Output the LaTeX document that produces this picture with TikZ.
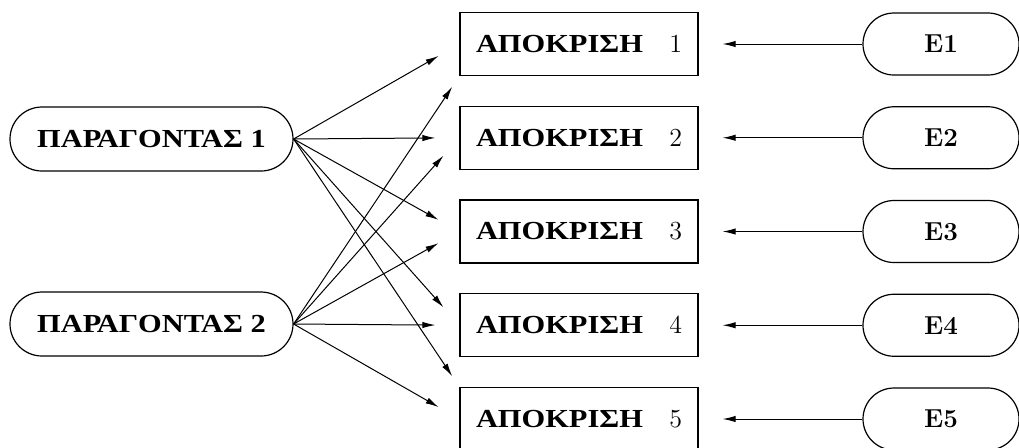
\documentclass[tikz,border=0pt]{standalone}
\usepackage{fontspec}
\newfontfamily\greekfont[FakeStretch=1.17]{Liberation Serif}
\usetikzlibrary{shapes.misc}
\usetikzlibrary{arrows.meta}

\newcommand{\grk}[1]{{\greekfont\bfseries #1}}

\begin{document}
\begin{tikzpicture}[x=0.5pt,y=-0.5pt,font=\fontsize{13}{15}\selectfont,
	factor/.style={draw,rounded rectangle,line width=0.6pt,minimum width=141.5pt,minimum height=32pt,inner sep=0pt},
	resp/.style={draw,rectangle,line width=0.6pt,minimum width=119pt,minimum height=31.5pt,text width=103pt,inner sep=0pt},
	err/.style={draw,rounded rectangle,line width=0.6pt,minimum width=78pt,minimum height=31pt,inner sep=0pt,font=\fontsize{13}{15}\selectfont\bfseries},
	link/.style={->,>={Latex[length=6.5pt,width=3.2pt]},line width=0.5pt,shorten >=12pt}]
	
	\useasboundingbox (0,0) rectangle (1019,447);
	
	% factors
	\node[factor] (p1) at (151.5,139) {\grk{ΠΑΡΑΓΟΝΤΑΣ 1}};
	\node[factor] (p2) at (151.5,324) {\grk{ΠΑΡΑΓΟΝΤΑΣ 2}};
	
	% responses
	\node[resp] (r1) at (579,44) {\grk{ΑΠΟΚΡΙΣΗ}\hfill 1};
	\node[resp] (r2) at (579,137.75) {\grk{ΑΠΟΚΡΙΣΗ}\hfill 2};
	\node[resp] (r3) at (579,231.5) {\grk{ΑΠΟΚΡΙΣΗ}\hfill 3};
	\node[resp] (r4) at (579,325.25) {\grk{ΑΠΟΚΡΙΣΗ}\hfill 4};
	\node[resp] (r5) at (579,419) {\grk{ΑΠΟΚΡΙΣΗ}\hfill 5};
	
	% errors
	\node[err] (e1) at (941,44) {E1};
	\node[err] (e2) at (941,137.75) {E2};
	\node[err] (e3) at (941,231.5) {E3};
	\node[err] (e4) at (941,325.25) {E4};
	\node[err] (e5) at (941,419) {E5};
	
	% loadings
	\draw[link] (p1.east) -- (r1.west);
	\draw[link] (p1.east) -- (r2.west);
	\draw[link] (p1.east) -- (r3.west);
	\draw[link] (p1.east) -- (r4.west);
	\draw[link,shorten >=6.5pt] (p1.east) -- (r5.north west);
	
	\draw[link,shorten >=6.5pt] (p2.east) -- (r1.south west);
	\draw[link] (p2.east) -- (r2.west);
	\draw[link] (p2.east) -- (r3.west);
	\draw[link] (p2.east) -- (r4.west);
	\draw[link] (p2.east) -- (r5.west);
	
	% error terms
	\draw[link] (e1.west) -- (r1.east);
	\draw[link] (e2.west) -- (r2.east);
	\draw[link] (e3.west) -- (r3.east);
	\draw[link] (e4.west) -- (r4.east);
	\draw[link] (e5.west) -- (r5.east);
\end{tikzpicture}
\end{document}
